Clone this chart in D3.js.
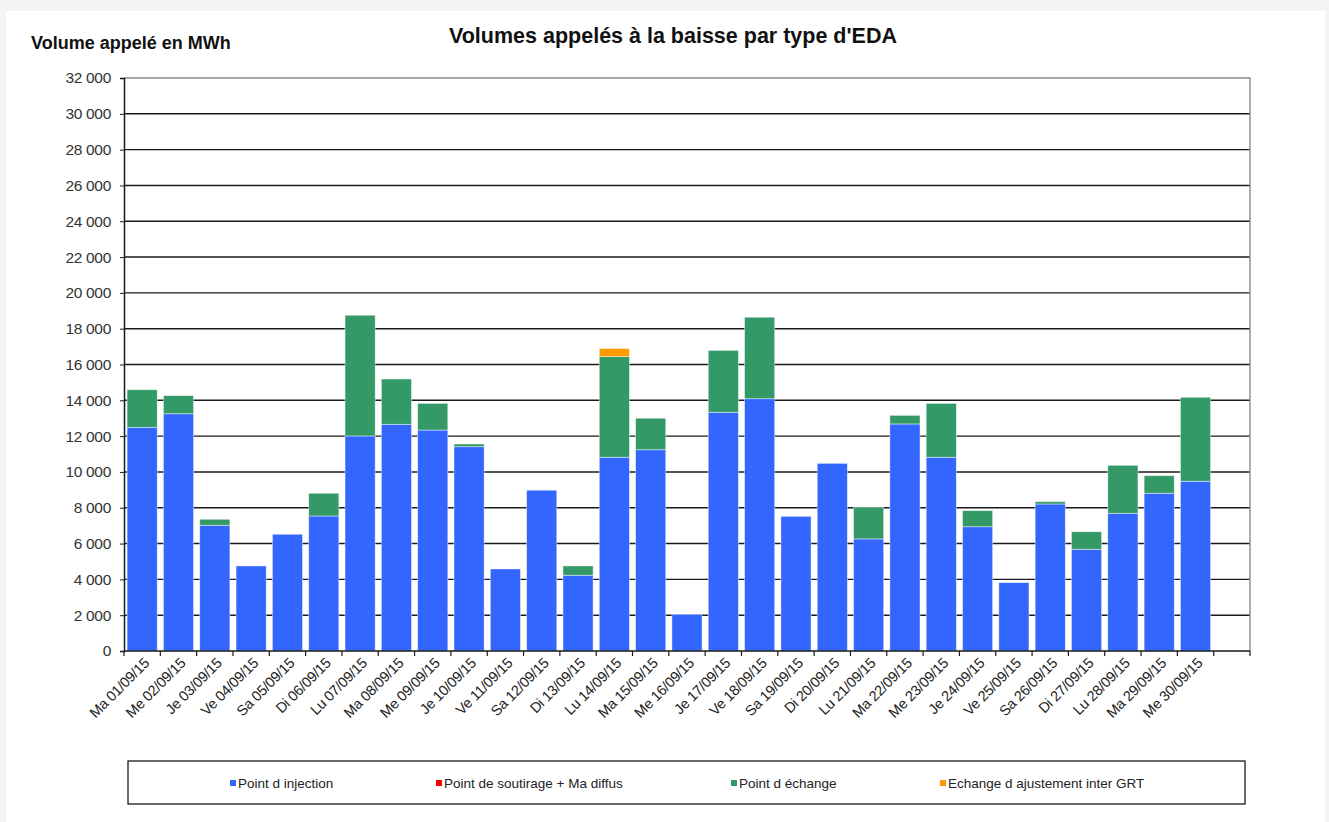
<!DOCTYPE html>
<html>
<head>
<meta charset="utf-8">
<script src="https://cdn.jsdelivr.net/npm/d3@7"></script>
<style>
  html, body { margin: 0; padding: 0; background: #f4f4f4; }
  svg { display: block; }
</style>
</head>
<body>
<div class="graph-bd"></div>
<script>
// jours de septembre 2015
var days = ["Ma 01/09/15", "Me 02/09/15", "Je 03/09/15", "Ve 04/09/15", "Sa 05/09/15", "Di 06/09/15",
    "Lu 07/09/15", "Ma 08/09/15", "Me 09/09/15", "Je 10/09/15", "Ve 11/09/15", "Sa 12/09/15",
    "Di 13/09/15", "Lu 14/09/15", "Ma 15/09/15", "Me 16/09/15", "Je 17/09/15", "Ve 18/09/15",
    "Sa 19/09/15", "Di 20/09/15", "Lu 21/09/15", "Ma 22/09/15", "Me 23/09/15", "Je 24/09/15",
    "Ve 25/09/15", "Sa 26/09/15", "Di 27/09/15", "Lu 28/09/15", "Ma 29/09/15", "Me 30/09/15", ""];

var injection = [12490, 13250, 7020, 4750, 6520, 7540, 12010, 12660, 12340, 11410, 4580, 8980,
    4230, 10820, 11240, 2050, 13330, 14090, 7520, 10480, 6260, 12680, 10820, 6940,
    3820, 8210, 5680, 7690, 8810, 9480, 0];
var soutirage = [0, 0, 0, 0, 0, 0, 0, 0, 0, 0, 0, 0, 0, 0, 0, 0, 0, 0, 0, 0, 0, 0, 0, 0, 0, 0, 0, 0, 0, 0, 0];
var echange = [2100, 1010, 335, 0, 0, 1270, 6740, 2530, 1490, 150, 0, 0,
    520, 5620, 1760, 0, 3460, 4550, 0, 0, 1770, 480, 3010, 900,
    0, 130, 980, 2680, 980, 4690, 0];
var ajustement = [0, 0, 0, 0, 0, 0, 0, 0, 0, 0, 0, 0, 0, 450, 0, 0, 0, 0, 0, 0, 0, 0, 0, 0, 0, 0, 0, 0, 0, 0, 0];

var seriesNames = ["Point d injection", "Point de soutirage + Ma diffus", "Point d échange", "Echange d ajustement inter GRT"];
var seriesColors = ["#3366ff", "#ff0000", "#339966", "#ff9900"];
var yTicks = [0, 2000, 4000, 6000, 8000, 10000, 12000, 14000, 16000, 18000, 20000, 22000, 24000, 26000, 28000, 30000, 32000];

function run() {
    var W = 1329, H = 822;
    var left = 124, right = 1250, top = 78, bottom = 651;
    var font = "Liberation Sans, Arial, sans-serif";

    var svg = d3.select(".graph-bd").append("svg")
        .attr("width", W)
        .attr("height", H);

    // fond blanc du graphique
    svg.append("rect")
        .attr("x", 6).attr("y", 11)
        .attr("width", 1319).attr("height", 811)
        .attr("fill", "white");

    var rows = days.map(function(d, i) {
        return { i: i, s0: injection[i], s1: soutirage[i], s2: echange[i], s3: ajustement[i] };
    });
    var stack = d3.stack().keys(["s0", "s1", "s2", "s3"]);
    var layers = stack(rows);

    var xScale = d3.scaleBand()
        .domain(d3.range(days.length))
        .range([left, right])
        .paddingInner(0.17)
        .paddingOuter(0.085);
    var yScale = d3.scaleLinear()
        .domain([0, 32000])
        .range([bottom, top]);

    var fmt = function(v) { return d3.format(",")(v).replace(/,/g, " "); };

    // grille
    svg.append("g").selectAll("line")
        .data(yTicks.filter(function(v) { return v > 0 && v < 32000; }))
        .enter().append("line")
        .attr("x1", left).attr("x2", right)
        .attr("y1", function(d) { return yScale(d); })
        .attr("y2", function(d) { return yScale(d); })
        .attr("stroke", "#1a1a1a")
        .attr("stroke-width", 1.4);

    // cadre haut et droite
    svg.append("path")
        .attr("d", "M" + left + "," + top + "H" + right + "V" + bottom)
        .attr("fill", "none")
        .attr("stroke", "#8c8c8c")
        .attr("stroke-width", 1.4);

    // barres empilées
    svg.append("g").selectAll("g")
        .data(layers)
        .enter().append("g")
        .attr("fill", function(d, i) { return seriesColors[i]; })
        .selectAll("rect")
        .data(function(d) { return d.filter(function(p) { return p[1] - p[0] > 0; }); })
        .enter().append("rect")
        .attr("x", function(d) { return xScale(d.data.i); })
        .attr("y", function(d) { return yScale(d[1]); })
        .attr("width", xScale.bandwidth())
        .attr("height", function(d) { return yScale(d[0]) - yScale(d[1]); })
        .attr("stroke", "rgba(255,255,255,0.55)")
        .attr("stroke-width", 0.8);

    // axe Y
    var yAxis = d3.axisLeft(yScale)
        .tickValues(yTicks)
        .tickSize(4)
        .tickFormat(fmt);
    var gy = svg.append("g")
        .attr("transform", "translate(" + left + ",0)")
        .call(yAxis);
    gy.select(".domain").attr("stroke", "#1a1a1a").attr("stroke-width", 1.5);
    gy.selectAll(".tick line").attr("stroke", "#1a1a1a");
    gy.selectAll(".tick text")
        .attr("x", -13)
        .attr("font-family", font)
        .attr("font-size", "15.5px")
        .attr("letter-spacing", "-0.3px")
        .attr("fill", "#333");

    // axe X : ticks aux limites des catégories
    var step = xScale.step();
    svg.append("line")
        .attr("x1", left).attr("x2", right)
        .attr("y1", bottom).attr("y2", bottom)
        .attr("stroke", "#1a1a1a")
        .attr("stroke-width", 1.5);
    svg.append("g").selectAll("line")
        .data(d3.range(days.length + 1))
        .enter().append("line")
        .attr("x1", function(d) { return left + d * step; })
        .attr("x2", function(d) { return left + d * step; })
        .attr("y1", bottom).attr("y2", bottom + 5)
        .attr("stroke", "#1a1a1a")
        .attr("stroke-width", 1.2);

    svg.append("g").selectAll("text")
        .data(days)
        .enter().append("text")
        .text(function(d) { return d; })
        .attr("text-anchor", "end")
        .attr("transform", function(d, i) {
            var cx = xScale(i) + xScale.bandwidth() / 2 + 8;
            return "translate(" + cx + "," + (bottom + 13) + ") rotate(-45)";
        })
        .attr("font-family", font)
        .attr("font-size", "14.5px")
        .attr("letter-spacing", "-0.3px")
        .attr("fill", "#222");

    // titres
    svg.append("text")
        .text("Volumes appelés à la baisse par type d'EDA")
        .attr("x", 673).attr("y", 43)
        .attr("text-anchor", "middle")
        .attr("font-family", font)
        .attr("font-weight", "bold")
        .attr("font-size", "21.5px")
        .attr("fill", "#111");
    svg.append("text")
        .text("Volume appelé en MWh")
        .attr("x", 31).attr("y", 49)
        .attr("font-family", font)
        .attr("font-weight", "bold")
        .attr("font-size", "18px")
        .attr("fill", "#111");

    // légende
    var legendX = [233, 439, 734, 943];
    var legend = svg.append("g");
    legend.append("rect")
        .attr("x", 128).attr("y", 761)
        .attr("width", 1117).attr("height", 43)
        .attr("fill", "white")
        .attr("stroke", "#1a1a1a")
        .attr("stroke-width", 1.3);
    var items = legend.selectAll("g")
        .data(seriesNames)
        .enter().append("g")
        .attr("transform", function(d, i) { return "translate(" + legendX[i] + ",783)"; });
    items.append("rect")
        .attr("x", -3).attr("y", -3)
        .attr("width", 6).attr("height", 6)
        .attr("fill", function(d, i) { return seriesColors[i]; });
    items.append("text")
        .text(function(d) { return d; })
        .attr("x", 5).attr("y", 4.5)
        .attr("font-family", font)
        .attr("font-size", "13.5px")
        .attr("fill", "#222");
}
window.addEventListener("load", run);
</script>
</body>
</html>
